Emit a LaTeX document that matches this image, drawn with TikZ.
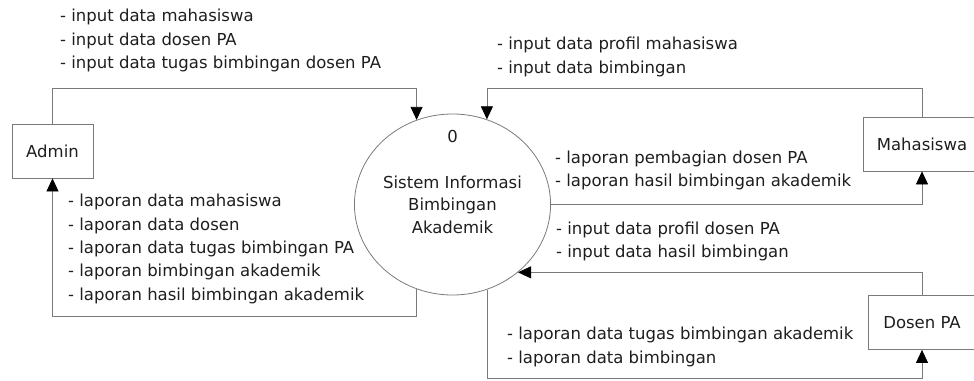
\documentclass[tikz,border=0pt]{standalone}
\usepackage{fontspec}
\setmainfont{DejaVu Sans}
\usepackage{tikz}
\usetikzlibrary{arrows.meta,shapes.geometric,calc}

\definecolor{linegray}{HTML}{7A7A7A}
\definecolor{textdark}{HTML}{1E1E1E}

\tikzset{
  entity/.style={draw=linegray,line width=0.8pt,minimum height=54pt,inner sep=0pt,
    text=textdark,font=\fontsize{16.5}{20}\selectfont},
  process/.style={ellipse,draw=linegray,line width=0.8pt,minimum width=189pt,
    minimum height=181pt,align=center,inner sep=0pt,text=textdark,
    font=\fontsize{16.5}{22.5}\selectfont},
  flowtext/.style={anchor=west,align=left,inner sep=0pt,text=textdark,
    font=\fontsize{16.5}{23.3}\selectfont},
  flow/.style={draw=linegray,line width=0.8pt,
    -{Triangle[color=black,length=13pt,width=12pt]}},
}

\begin{document}
\begin{tikzpicture}[x=1pt,y=-1pt]
      \useasboundingbox (0,0) rectangle (974,380);
      % External entities and the process
      \node[entity,minimum width=81pt] (admin) at (52.5,151) {Admin};
      \node[entity,minimum width=118pt] (mhs) at (922,144) {Mahasiswa};
      \node[entity,minimum width=108pt] (dosen) at (922,322.5) {Dosen PA};
      \node[process] (sis) at (452.5,204.5) {Sistem Informasi\\Bimbingan\\Akademik};
      \node[text=textdark,font=\fontsize{16.5}{20}\selectfont] (sisno) at (452.5,136) {0};
      % routing levels
      \coordinate (upper) at (0,88);
      \coordinate (lower) at (0,316);
      \coordinate (lowest) at (0,378.5);
      % Data flows
      \draw[flow] (admin.north) |- (sis.113 |- upper) -- (sis.113);
      \draw[flow] (mhs.north) |- (sis.68 |- upper) -- (sis.68);
      \draw[flow] (sis.east) -| (mhs.south);
      \draw[flow] (dosen.north) |- (sis.-46);
      \draw[flow] (sis.-68) -- (sis.-68 |- lowest) -| (dosen.south);
      \draw[flow] (sis.-113) -- (sis.-113 |- lower) -| (admin.south);
      % Flow labels
      \node[flowtext] (inadmin) at (60,40.5) {- input data mahasiswa\\- input data dosen PA\\- input data tugas bimbingan dosen PA};
      \node[flowtext] (inmhs) at (497,57) {- input data profil mahasiswa\\- input data bimbingan};
      \node[flowtext] (outmhs) at (555,170.5) {- laporan pembagian dosen PA\\- laporan hasil bimbingan akademik};
      \node[flowtext] (outadmin) at (68,249) {- laporan data mahasiswa\\- laporan data dosen\\- laporan data tugas bimbingan PA\\- laporan bimbingan akademik\\- laporan hasil bimbingan akademik};
      \node[flowtext] (indosen) at (556,241.5) {- input data profil dosen PA\\- input data hasil bimbingan};
      \node[flowtext] (outdosen) at (507,347) {- laporan data tugas bimbingan akademik\\- laporan data bimbingan};
    \end{tikzpicture}
\end{document}
